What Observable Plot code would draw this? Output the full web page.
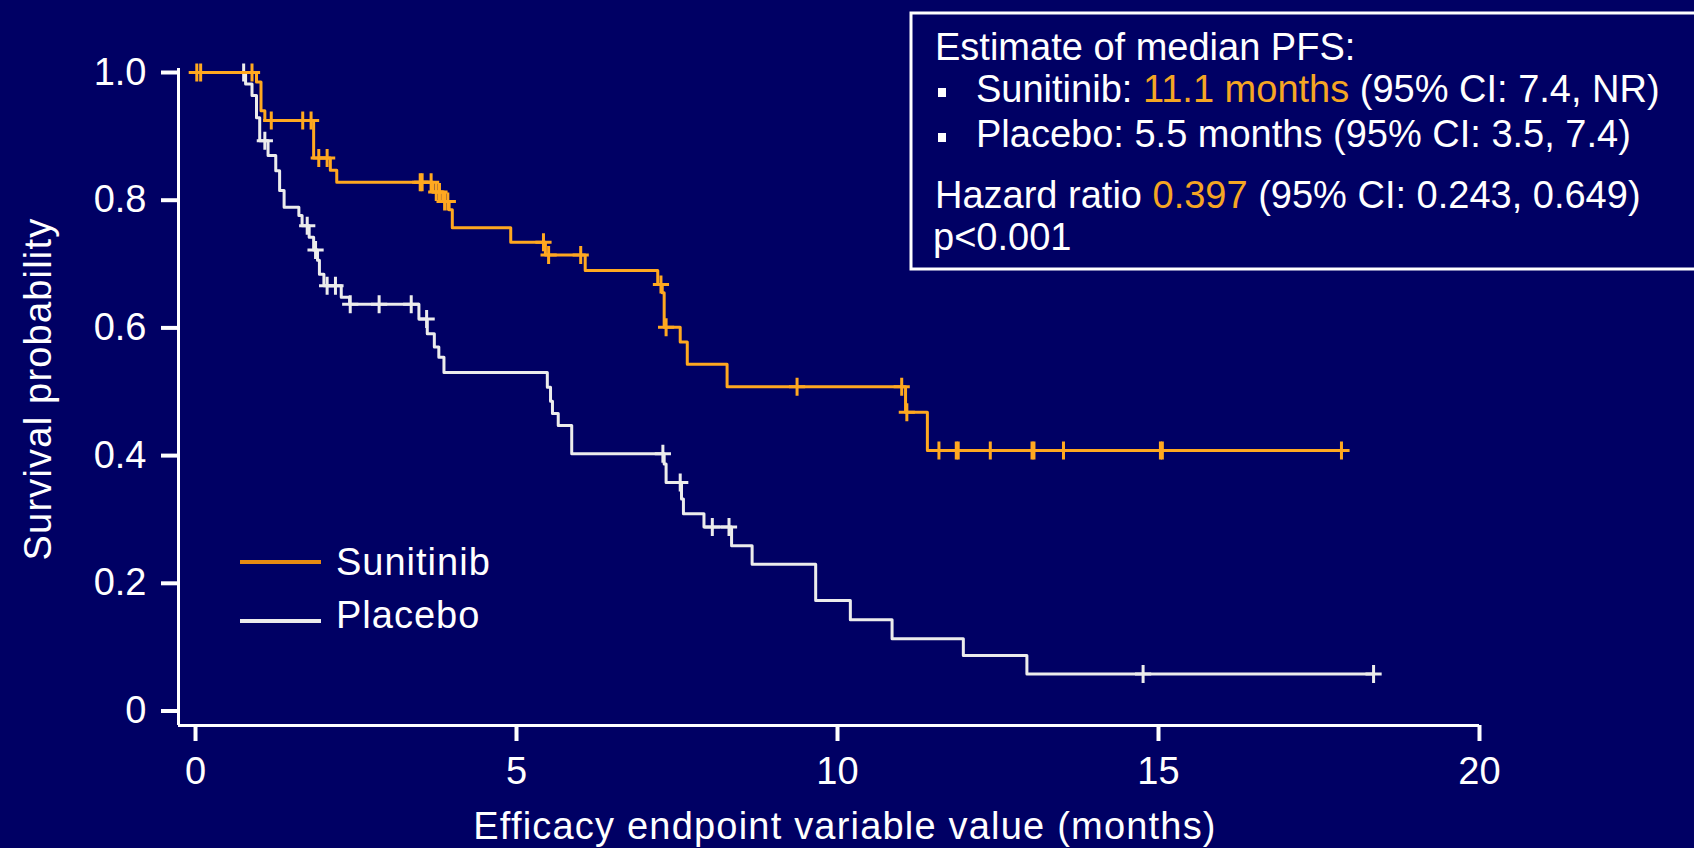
<!DOCTYPE html>
<html>
<head>
<meta charset="utf-8">
<script src="https://cdn.jsdelivr.net/npm/d3@7"></script>
<script src="https://cdn.jsdelivr.net/npm/@observablehq/plot@0.6"></script>
<style>
  html, body { margin: 0; padding: 0; background: #000064; overflow: hidden; }
  #chart svg { display: block; }
</style>
</head>
<body>
<div id="chart"></div>
<script>
// Kaplan–Meier step points: time (months) at which survival drops to the given value
const sunitinibTimes = [0, 0.95, 1.02, 1.08, 1.84, 2.1, 2.2, 3.7, 3.85, 3.95, 4.0, 4.91, 5.45, 6.07, 7.2, 7.27, 7.3, 7.55, 7.66, 8.28, 11.06, 11.4];
const sunitinibSurv  = [1.0, 0.985, 0.94, 0.925, 0.866, 0.847, 0.828, 0.813, 0.798, 0.785, 0.757, 0.734, 0.714, 0.690, 0.668, 0.655, 0.601, 0.578, 0.543, 0.508, 0.468, 0.408];
const sunitinibCensored = [0.02, 0.08, 0.88, 1.18, 1.67, 1.8, 1.92, 2.05, 3.5, 3.53, 3.67, 3.75, 3.8, 3.88, 3.93, 5.42, 5.5, 6.0, 7.25, 7.33, 9.37, 11.0, 11.08, 11.58, 11.85, 11.88, 12.38, 13.03, 13.06, 13.52, 15.03, 15.06, 17.85];

const placeboTimes = [0, 0.78, 0.88, 0.95, 1.0, 1.13, 1.25, 1.31, 1.38, 1.61, 1.66, 1.77, 1.84, 1.90, 1.93, 2.0, 2.27, 2.4, 3.48, 3.61, 3.72, 3.79, 3.87, 5.48, 5.53, 5.56, 5.65, 5.86, 7.3, 7.33, 7.57, 7.6, 7.92, 8.35, 8.67, 9.66, 10.2, 10.85, 11.96, 12.95];
const placeboSurv  = [1.0, 0.982, 0.964, 0.929, 0.893, 0.87, 0.846, 0.815, 0.789, 0.776, 0.76, 0.742, 0.722, 0.706, 0.684, 0.666, 0.648, 0.637, 0.614, 0.591, 0.570, 0.554, 0.530, 0.507, 0.485, 0.466, 0.447, 0.403, 0.387, 0.358, 0.332, 0.309, 0.288, 0.259, 0.230, 0.173, 0.143, 0.113, 0.087, 0.058];
const placeboCensored = [0.75, 1.08, 1.74, 1.87, 2.05, 2.18, 2.41, 2.86, 3.36, 3.6, 7.28, 7.55, 8.05, 8.31, 14.76, 18.35];

const armNames = ["Sunitinib", "Placebo"];
const xTicks = [0, 5, 10, 15, 20];
const yTicks = [0, 0.2, 0.4, 0.6, 0.8, 1.0];
const yTickLabels = ["0", "0.2", "0.4", "0.6", "0.8", "1.0"];
const xLabel = "Efficacy endpoint variable value (months)";
const yLabel = "Survival probability";

// Summary box lines: [text, highlighted] segments
const summaryTitle = "Estimate of median PFS:";
const summaryBullets = [
  [["Sunitinib: ", false], ["11.1 months", true], [" (95% CI: 7.4, NR)", false]],
  [["Placebo: 5.5 months (95% CI: 3.5, 7.4)", false]]
];
const summaryHazard = [["Hazard ratio ", false], ["0.397", true], [" (95% CI: 0.243, 0.649)", false]];
const summaryP = "p<0.001";

// Colours and layout
const bg = "#000064";
const orange = "#ffa820";
const orangeText = "#f5a623";
const orangeLegend = "#e68a12";
const grey = "#ececec";
const white = "#ffffff";
const font = "'Liberation Sans', Arial, sans-serif";
const xDomain = [-0.265, 20];
const yDomain = [-0.0227, 1];

function survAt(times, surv, t) {
  let s = surv[0];
  for (let i = 0; i < times.length; i++) if (times[i] <= t) s = surv[i];
  return s;
}
function stepRows(times, surv, censored) {
  const rows = times.map((t, i) => ({t, s: surv[i]}));
  const tEnd = d3.max(censored);
  rows.push({t: tEnd, s: survAt(times, surv, tEnd)});
  return rows;
}
function censorRows(times, surv, censored) {
  return censored.map(t => ({t, s: survAt(times, surv, t)}));
}

const sunRows = stepRows(sunitinibTimes, sunitinibSurv, sunitinibCensored);
const plaRows = stepRows(placeboTimes, placeboSurv, placeboCensored);
const sunCens = censorRows(sunitinibTimes, sunitinibSurv, sunitinibCensored);
const plaCens = censorRows(placeboTimes, placeboSurv, placeboCensored);

// "+" censor mark
const plusSymbol = {
  draw(ctx, size) {
    const r = Math.sqrt(size / Math.PI);
    ctx.moveTo(-r * 0.9, 0); ctx.lineTo(r * 0.9, 0);
    ctx.moveTo(0, -r); ctx.lineTo(0, r);
  }
};

const W = 1694, H = 848;
const plot = Plot.plot({
  width: W,
  height: H,
  marginLeft: 178,
  marginRight: 215,
  marginTop: 72,
  marginBottom: 123,
  x: {domain: xDomain},
  y: {domain: yDomain},
  style: {background: bg, color: white, fontFamily: font},
  marks: [
    Plot.axisX(xTicks, {tickSize: 16, tickPadding: 16, fontSize: 38, strokeWidth: 4, label: null, tickFormat: d => String(d)}),
    Plot.axisY(yTicks, {tickSize: 17, tickPadding: 15, fontSize: 38, strokeWidth: 4, label: null, tickFormat: d => yTickLabels[yTicks.indexOf(d)]}),
    Plot.ruleX([xDomain[0]], {stroke: white, strokeWidth: 3, insetTop: -4}),
    Plot.ruleY([yDomain[0]], {stroke: white, strokeWidth: 3}),
    Plot.line(plaRows, {x: "t", y: "s", curve: "step-after", stroke: grey, strokeWidth: 3}),
    Plot.dot(plaCens, {x: "t", y: "s", symbol: plusSymbol, r: 9, fill: "none", stroke: grey, strokeWidth: 3}),
    Plot.line(sunRows, {x: "t", y: "s", curve: "step-after", stroke: orange, strokeWidth: 3}),
    Plot.dot(sunCens, {x: "t", y: "s", symbol: plusSymbol, r: 9, fill: "none", stroke: orange, strokeWidth: 3}),
    Plot.text([yLabel], {frameAnchor: "left", textAnchor: "middle", lineAnchor: "middle", rotate: -90, dx: -140, dy: -10, fontSize: 38, fill: white}),
    Plot.text([xLabel], {frameAnchor: "bottom", textAnchor: "middle", lineAnchor: "middle", dx: 16, dy: 101, fontSize: 38, fill: white})
  ]
});

const svg = d3.select(plot);

// Slightly wider tracking on the axis titles
svg.selectAll("text")
  .filter(function() { return this.textContent === xLabel || this.textContent === yLabel; })
  .attr("letter-spacing", "1.2px");

// Legend
const legendColors = [orangeLegend, grey];
const legendLineY = [562, 621];
const legendTextY = [575, 628];
const legend = svg.append("g")
  .attr("font-family", font).attr("font-size", 38)
  .attr("letter-spacing", "1px").attr("text-anchor", "start");
armNames.forEach((name, i) => {
  legend.append("line")
    .attr("x1", 240).attr("x2", 321)
    .attr("y1", legendLineY[i]).attr("y2", legendLineY[i])
    .attr("stroke", legendColors[i]).attr("stroke-width", 4);
  legend.append("text")
    .attr("x", 336).attr("y", legendTextY[i])
    .attr("fill", white).text(name);
});

// Summary box
const box = svg.append("g")
  .attr("font-family", font).attr("font-size", 38)
  .attr("fill", white).attr("text-anchor", "start");
box.append("rect")
  .attr("x", 911).attr("y", 13).attr("width", 820).attr("height", 256)
  .attr("fill", "none").attr("stroke", white).attr("stroke-width", 3);
box.append("text").attr("x", 935).attr("y", 60).text(summaryTitle);
const bulletBaselines = [102, 147];
summaryBullets.forEach((segs, i) => {
  box.append("rect")
    .attr("x", 938).attr("y", bulletBaselines[i] - 14)
    .attr("width", 8).attr("height", 9).attr("fill", white);
  const t = box.append("text").attr("x", 976).attr("y", bulletBaselines[i]);
  segs.forEach(([txt, hi]) => t.append("tspan").attr("fill", hi ? orangeText : white).text(txt));
});
const hz = box.append("text").attr("x", 935).attr("y", 208);
summaryHazard.forEach(([txt, hi]) => hz.append("tspan").attr("fill", hi ? orangeText : white).text(txt));
box.append("text").attr("x", 933).attr("y", 250).text(summaryP);

document.getElementById("chart").appendChild(plot);
</script>
</body>
</html>
